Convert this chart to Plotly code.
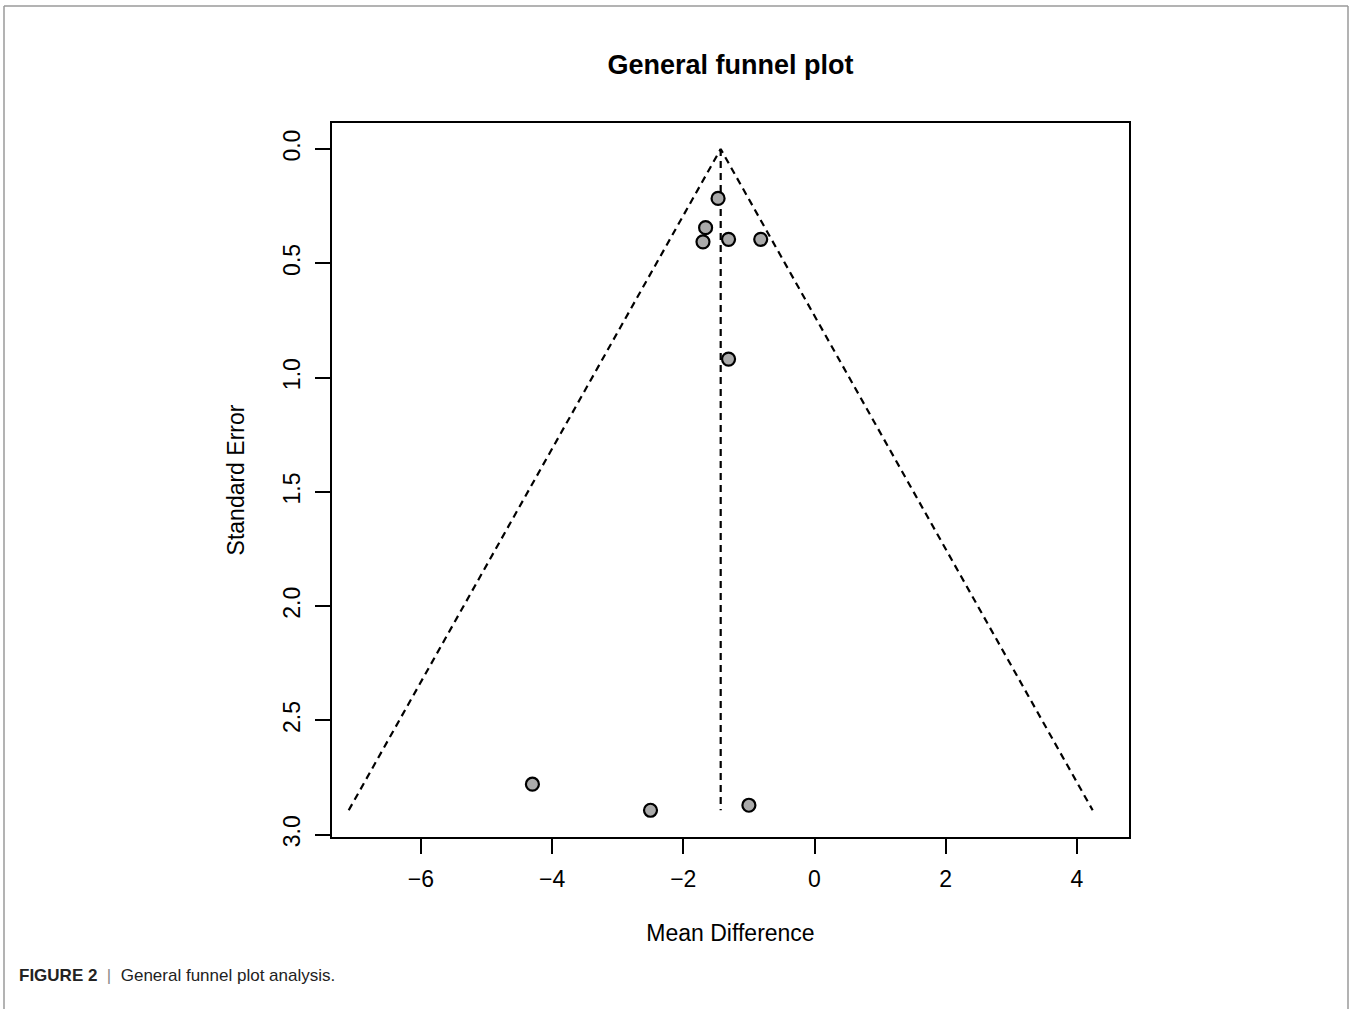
import numpy as np
import plotly.graph_objects as go

# Study data
mean_diff = [-1.47, -1.66, -1.70, -1.31, -0.82, -1.31, -4.30, -2.50, -1.00]
std_err = [0.216, 0.344, 0.406, 0.395, 0.395, 0.919, 2.779, 2.893, 2.871]
pooled_estimate = -1.43
x_ticks = [-6, -4, -2, 0, 2, 4]
y_ticks = [0.0, 0.5, 1.0, 1.5, 2.0, 2.5, 3.0]

se_max = max(std_err)
funnel_x = [pooled_estimate - 1.96 * se_max, pooled_estimate, pooled_estimate + 1.96 * se_max]
funnel_y = [se_max, 0.0, se_max]

fig = go.Figure()
fig.add_trace(go.Scatter(x=funnel_x, y=funnel_y, mode="lines",
                         line=dict(color="black", width=2.2, dash="7px,5px"),
                         hoverinfo="skip", showlegend=False))
fig.add_trace(go.Scatter(x=[pooled_estimate, pooled_estimate], y=[0.0, se_max], mode="lines",
                         line=dict(color="black", width=2.2, dash="7px,5px"),
                         hoverinfo="skip", showlegend=False))
fig.add_trace(go.Scatter(x=mean_diff, y=std_err, mode="markers",
                         marker=dict(size=13, color="#aaaaaa", line=dict(color="black", width=2.2)),
                         showlegend=False))

font = "Liberation Sans, Arial, sans-serif"
fig.update_layout(
    width=1350, height=1009,
    margin=dict(l=332, r=221, t=123, b=172),
    paper_bgcolor="white", plot_bgcolor="white",
    font=dict(family=font, color="black", size=23),
    title=dict(text="<b>General funnel plot</b>", x=0.5, xref="paper", xanchor="center",
               y=1 - 65 / 1009, yanchor="middle", font=dict(size=27, family=font)),
    showlegend=False,
)
fig.update_xaxes(range=[-7.355, 4.794], tickvals=x_ticks,
                 ticktext=["\u2212" + str(-v) if v < 0 else str(v) for v in x_ticks],
                 ticklabelstandoff=5,
                 showgrid=False, zeroline=False, showline=True, linecolor="black", linewidth=2,
                 mirror=True, ticks="outside", ticklen=15, tickwidth=2, tickcolor="black",
                 tickfont=dict(size=23), title=dict(text="Mean Difference", font=dict(size=23), standoff=34))
fig.update_yaxes(range=[3.01, -0.114], tickvals=y_ticks, ticktext=[f"{v:.1f}" for v in y_ticks],
                 tickangle=-90, ticklabelstandoff=6,
                 showgrid=False, zeroline=False, showline=True, linecolor="black", linewidth=2,
                 mirror=True, ticks="outside", ticklen=15, tickwidth=2, tickcolor="black",
                 tickfont=dict(size=23), title=dict(text="Standard Error", font=dict(size=23), standoff=28))

# outer figure frame (light gray, open at bottom)
pw, ph = 797, 714
def px(x):
    return (x - 332) / pw
def py(y):
    return (837 - y) / ph
for x0, y0, x1, y1 in [(4, 6, 1348, 6), (4, 6, 4, 1009), (1348, 6, 1348, 1009)]:
    fig.add_shape(type="line", xref="paper", yref="paper", x0=px(x0), y0=py(y0), x1=px(x1), y1=py(y1),
                  line=dict(color="#9a9a9a", width=1.5))

fig.add_annotation(xref="paper", yref="paper", x=px(17), y=py(975), xanchor="left", yanchor="middle",
                   text="<b>FIGURE 2</b>  <span style='color:#888888'>|</span>  General funnel plot analysis.",
                   showarrow=False, font=dict(size=17, family=font, color="#222222"))

fig.write_html("out.html", config={"displayModeBar": False},
               post_script="document.body.style.margin='0';")
